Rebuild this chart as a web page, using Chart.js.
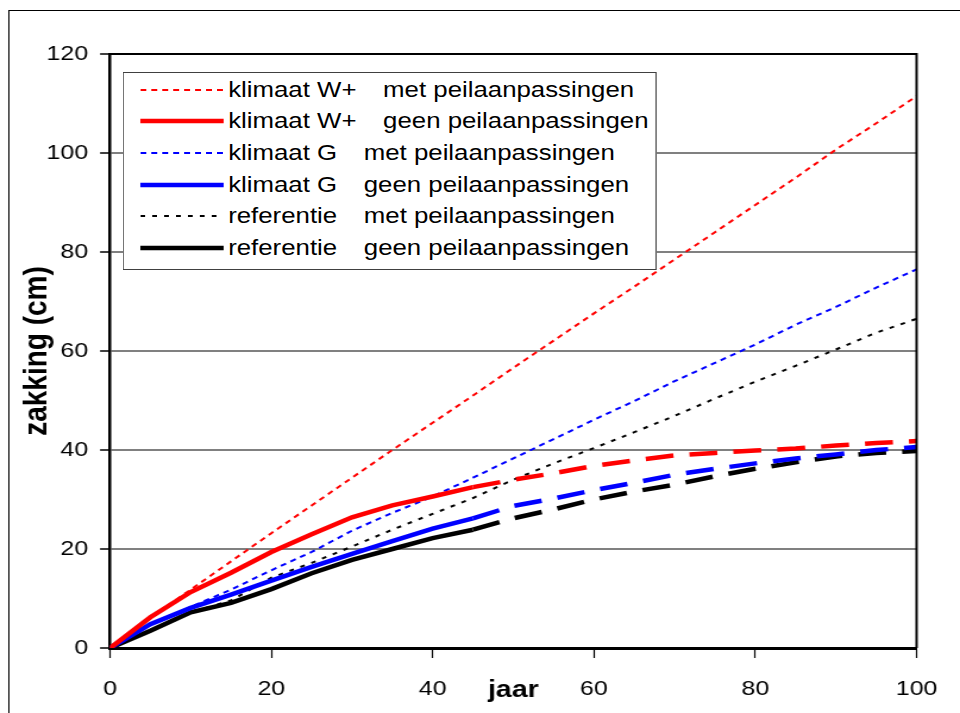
<!DOCTYPE html>
<html>
<head>
<meta charset="utf-8">
<script src="https://cdn.jsdelivr.net/npm/chart.js@4"></script>
<style>
  html, body { margin: 0; padding: 0; background: #fff; overflow: hidden; }
  /* the original picture is stretched sideways, so the whole chart is drawn narrower and widened */
  #wrap { position: relative; width: 807px; height: 713px; overflow: hidden;
          transform: scaleX(1.1896); transform-origin: 0 0; }
  #frame { position: absolute; left: 6.7px; top: 10px; width: 2000px; height: 2000px; border: 1px solid #000; }
  #chart { position: absolute; left: 0; top: 0; }
  #legend {
    position: absolute; left: 103.4px; top: 72px; width: 449px; height: 198px;
    border: 1px solid #404040; background: #fff; box-sizing: border-box;
    font: 21.7px "Liberation Sans", Arial, sans-serif; color: #000; padding-top: 1px;
  }
  #legend .row { display: flex; align-items: center; height: 31.6px; white-space: pre; }
  #legend svg { margin-left: 13.4px; margin-right: 4px; flex: none; }
</style>
</head>
<body>
<div id="wrap">
  <div id="frame"></div>
  <canvas id="chart" width="807" height="713"></canvas>
  <div id="legend"></div>
</div>
<script>
// years (jaar)
const years = [0, 5, 10, 15, 20, 25, 30, 35, 40, 45, 50, 55, 60, 65, 70, 75, 80, 85, 90, 95, 100];

// zakking (cm)
const wPlusMet  = [0, 6.2, 11.8, 17.5, 23.2, 28.8, 34.4, 40, 45.5, 51, 56.6, 62.1, 67.6, 73, 78.5, 84, 89.5, 95, 100.7, 106, 111.5];
const wPlusGeen = [0, 6.2, 11.3, 15.2, 19.4, 23, 26.4, 28.8, 30.6, 32.5, 34, 35.3, 36.8, 37.9, 38.9, 39.4, 39.9, 40.3, 40.9, 41.4, 41.8];
const gMet      = [0, 4.8, 8.3, 11.8, 15.7, 19.4, 23.7, 27.3, 30.6, 34.4, 38.3, 42.2, 46.1, 49.9, 53.9, 57.6, 61.3, 65.3, 68.9, 72.8, 76.5];
const gGeen     = [0, 4.8, 8.1, 10.8, 13.6, 16.4, 19, 21.6, 24.1, 26.2, 28.7, 30.2, 31.9, 33.4, 35, 36.2, 37.3, 38.3, 39.1, 40, 40.6];
const refMet    = [0, 3.5, 7.2, 9.6, 14.2, 17.2, 20.5, 23.9, 27.1, 30.3, 34, 37.3, 40.4, 43.6, 46.9, 50.4, 53.8, 57, 60.3, 63.7, 66.5];
const refGeen   = [0, 3.5, 7.2, 9.1, 11.9, 15.1, 17.8, 20, 22.2, 23.9, 26.2, 28, 30, 31.6, 33, 34.7, 36.2, 37.5, 38.7, 39.4, 39.8];

const gap = '   \u2009';
const labels = [
  'klimaat W+' + gap + 'met peilaanpassingen',
  'klimaat W+' + gap + 'geen peilaanpassingen',
  'klimaat G' + gap + 'met peilaanpassingen',
  'klimaat G' + gap + 'geen peilaanpassingen',
  'referentie' + gap + 'met peilaanpassingen',
  'referentie' + gap + 'geen peilaanpassingen'
];

// solid lines go over into long dashes from this year on
const dashFrom = 45;

Chart.defaults.font.family = '"Liberation Sans", Arial, sans-serif';
Chart.defaults.color = '#000';

const toPoints = vals => vals.map((v, i) => ({ x: years[i], y: v }));

const metLine = (label, vals, color, dash) => ({
  label, data: toPoints(vals), borderColor: color, borderWidth: 2,
  borderDash: dash, fill: false
});
const geenLine = (label, vals, color) => ({
  label, data: toPoints(vals), borderColor: color, borderWidth: 4.5,
  borderCapStyle: 'butt', fill: false,
  segment: { borderDash: ctx => ctx.p0.parsed.x >= dashFrom ? [23.5, 13.5] : undefined }
});

const datasets = [
  metLine(labels[0], wPlusMet, '#ff0000', [5, 4.2]),
  geenLine(labels[1], wPlusGeen, '#ff0000'),
  metLine(labels[2], gMet, '#0000ff', [5, 4.2]),
  geenLine(labels[3], gGeen, '#0000ff'),
  metLine(labels[4], refMet, '#000000', [4, 6]),
  geenLine(labels[5], refGeen, '#000000')
];

// black top and right edge of the plot area
const plotFrame = {
  id: 'plotFrame',
  afterDraw(chart) {
    const { ctx, chartArea: a } = chart;
    ctx.save();
    ctx.strokeStyle = '#000';
    ctx.lineWidth = 2;
    ctx.beginPath();
    ctx.moveTo(a.left, a.top);
    ctx.lineTo(a.right, a.top);
    ctx.lineTo(a.right, a.bottom);
    ctx.stroke();
    ctx.restore();
  }
};

new Chart(document.getElementById('chart'), {
  type: 'line',
  data: { datasets },
  options: {
    responsive: false,
    animation: false,
    layout: { padding: { top: 54, right: 34.5, left: 0, bottom: 0 } },
    plugins: { legend: { display: false }, tooltip: { enabled: false } },
    elements: { point: { radius: 0 }, line: { tension: 0 } },
    scales: {
      x: {
        type: 'linear', min: 0, max: 100,
        ticks: { stepSize: 20, padding: 19, font: { size: 21 } },
        grid: { drawOnChartArea: false, tickLength: 10, tickColor: '#000', tickWidth: 1.2 },
        border: { color: '#000', width: 3 },
        title: { display: true, text: 'jaar', font: { size: 24, weight: 'bold' }, padding: { top: 0, bottom: 8.6 } },
        afterFit: s => { s.height = 65; }
      },
      y: {
        min: 0, max: 120,
        ticks: { stepSize: 20, padding: 10, font: { size: 21 } },
        grid: { color: '#808080', lineWidth: 2, tickLength: 8.4, tickColor: '#000', tickWidth: 1.5 },
        border: { color: '#000', width: 2.5 },
        title: { display: true, text: 'zakking (cm)', font: { size: 28, weight: 'bold' }, padding: { top: 14.2, bottom: 0 } },
        afterFit: s => { s.width = 92.5; }
      }
    }
  },
  plugins: [plotFrame]
});

// legend box inside the plot, built from the datasets
const legend = document.getElementById('legend');
datasets.forEach(ds => {
  const row = document.createElement('div');
  row.className = 'row';
  const dash = ds.segment ? '' : ds.borderDash.join(' ');
  row.innerHTML =
    '<svg width="70" height="8"><line x1="0" y1="4" x2="70" y2="4" stroke="' + ds.borderColor +
    '" stroke-width="' + ds.borderWidth + '"' + (dash ? ' stroke-dasharray="' + dash + '"' : ' stroke-linecap="round"') +
    '/></svg><span></span>';
  row.querySelector('span').textContent = ds.label;
  legend.appendChild(row);
});
</script>
</body>
</html>
